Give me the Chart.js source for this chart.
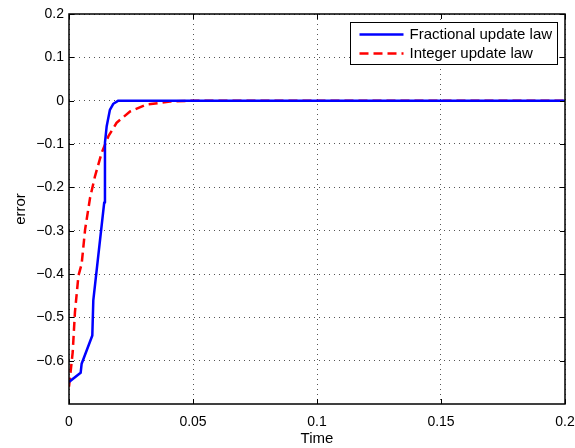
<!DOCTYPE html>
<html>
<head>
<meta charset="utf-8">
<script src="https://cdn.jsdelivr.net/npm/chart.js@4/dist/chart.umd.min.js"></script>
<style>
  html,body{margin:0;padding:0;background:#fff}
  #wrap{width:575px;height:448px;position:relative}
</style>
</head>
<body>
<div id="wrap"><canvas id="c"></canvas></div>
<script>
// data
var fracTime=[0,0.0047,0.0051,0.0094,0.0098,0.0142,0.0145,0.0152,0.0165,0.0179,0.0199,0.05,0.1,0.15,0.2]
var fracErr=[-0.649,-0.628,-0.607,-0.542,-0.461,-0.235,-0.097,-0.059,-0.021,-0.007,0,0,0,0,0]

var intTime=[0,0.0015,0.0024,0.0038,0.0051,0.0065,0.0085,0.0105,0.0132,0.0159,0.0192,0.0246,0.0313,0.0407,0.05,0.1,0.15,0.2]
var intErr=[-0.66,-0.58,-0.488,-0.404,-0.377,-0.297,-0.224,-0.174,-0.12,-0.082,-0.051,-0.025,-0.009,-0.002,0,0,0,0]

var seriesNames=["Fractional update law","Integer update law"]
var xTicks=[0,0.05,0.1,0.15,0.2]
var yTicks=[-0.6,-0.5,-0.4,-0.3,-0.2,-0.1,0,0.1,0.2]

var font_family="'Liberation Sans', Arial, Helvetica, sans-serif"
var text_color="#000"

function pts(xs,ys){
    var out=[]
    for(var i=0;i<xs.length;i++){ out.push({x:xs[i],y:ys[i]}) }
    return out
}

function fmt(v){
    var s=String(Math.round(v*100)/100)
    return s.replace('-','\u2212')
}

// matlab style box, inward ticks and legend
const matlabBox={
    id:'matlabBox',
    afterDraw:(chart)=>{
        const {ctx,chartArea:a,scales}=chart
        ctx.save()
        ctx.strokeStyle='#000'
        ctx.lineWidth=1
        ctx.beginPath()
        xTicks.forEach(function(t){
            var px=Math.round(scales.x.getPixelForValue(t))+0.5
            ctx.moveTo(px,a.bottom);ctx.lineTo(px,a.bottom-5)
            ctx.moveTo(px,a.top);ctx.lineTo(px,a.top+5)
        })
        yTicks.forEach(function(t){
            var py=Math.round(scales.y.getPixelForValue(t))+0.5
            ctx.moveTo(a.left,py);ctx.lineTo(a.left+5,py)
            ctx.moveTo(a.right,py);ctx.lineTo(a.right-5,py)
        })
        ctx.stroke()
        ctx.lineWidth=1.5
        ctx.strokeRect(a.left,a.top,a.right-a.left,a.bottom-a.top)

        // legend
        var lx=350.5,ly=22.5,lw=207,lh=42
        ctx.fillStyle='#fff'
        ctx.fillRect(lx,ly,lw,lh)
        ctx.lineWidth=1
        ctx.strokeRect(lx,ly,lw,lh)
        ctx.font='15px '+font_family
        ctx.textBaseline='middle'
        ctx.fillStyle=text_color
        var ds=chart.data.datasets
        for(var i=0;i<ds.length;i++){
            var yy=ly+12+i*19
            ctx.strokeStyle=ds[i].borderColor
            ctx.lineWidth=2.5
            ctx.setLineDash(ds[i].borderDash||[])
            ctx.beginPath()
            ctx.moveTo(lx+9,yy);ctx.lineTo(lx+53,yy)
            ctx.stroke()
            ctx.setLineDash([])
            ctx.fillText(ds[i].label,lx+59,yy)
        }
        ctx.restore()
    }
}

var config={
    type:'line',
    data:{
        datasets:[{
            label:seriesNames[0],
            data:pts(fracTime,fracErr),
            borderColor:'rgb(0,0,255)',
            borderWidth:2.5,
            borderJoinStyle:'round',
            pointRadius:0,
            tension:0,
            fill:false
        },{
            label:seriesNames[1],
            data:pts(intTime,intErr),
            borderColor:'rgb(255,0,0)',
            borderWidth:2.5,
            borderJoinStyle:'round',
            borderDash:[9,5],
            pointRadius:0,
            tension:0,
            fill:false
        }]
    },
    options:{
        responsive:true,
        maintainAspectRatio:false,
        animation:false,
        layout:{padding:{left:12,right:10,top:14,bottom:0}},
        plugins:{
            legend:{display:false},
            tooltip:{enabled:false}
        },
        scales:{
            x:{
                type:'linear',
                min:0,max:0.2,
                afterBuildTicks:function(s){ s.ticks=xTicks.map(function(v){return {value:v}}) },
                afterFit:function(s){ s.height=44; s.paddingLeft=0; s.paddingRight=0 },
                ticks:{color:text_color,font:{family:font_family,size:14},padding:10,maxRotation:0,
                    callback:function(v){return fmt(v)}},
                grid:{color:'#555',drawTicks:false,lineWidth:1},
                border:{display:false,dash:[1,4]},
                title:{display:true,text:'Time',color:text_color,font:{family:font_family,size:15},padding:{top:0,bottom:0}}
            },
            y:{
                min:-0.7,max:0.2,
                afterBuildTicks:function(s){ s.ticks=yTicks.map(function(v){return {value:v}}) },
                afterFit:function(s){ s.width=57; s.paddingTop=0; s.paddingBottom=0 },
                ticks:{color:text_color,font:{family:font_family,size:14},padding:5,
                    callback:function(v){return fmt(v)}},
                grid:{color:'#555',drawTicks:false,lineWidth:1},
                border:{display:false,dash:[1,4]},
                title:{display:true,text:'error',color:text_color,font:{family:font_family,size:15},padding:{top:0,bottom:4}}
            }
        }
    },
    plugins:[matlabBox]
}

var chart=new Chart(document.getElementById('c'),config)
</script>
</body>
</html>
